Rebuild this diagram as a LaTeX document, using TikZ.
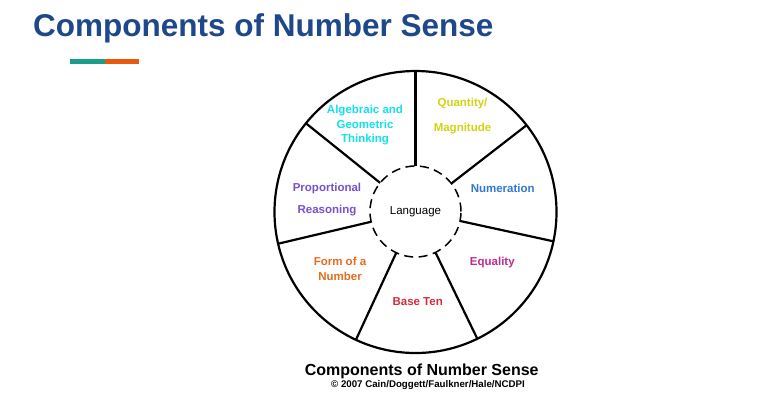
\documentclass[tikz,border=0pt]{standalone}
\usepackage{fontspec}
\setmainfont{Liberation Sans}
\definecolor{titleblue}{RGB}{31,72,138}
\definecolor{barteal}{RGB}{26,158,138}
\definecolor{barorange}{RGB}{232,89,12}
\definecolor{cAlg}{RGB}{20,225,235}
\definecolor{cQty}{RGB}{210,210,20}
\definecolor{cNum}{RGB}{50,120,210}
\definecolor{cProp}{RGB}{120,80,205}
\definecolor{cEq}{RGB}{190,45,140}
\definecolor{cForm}{RGB}{225,110,30}
\definecolor{cBase}{RGB}{210,45,60}
\tikzset{
  wheel/.style={circle, draw=black, line width=2.2bp, inner sep=0pt, outer sep=0pt},
  hub/.style={circle, draw=black, line width=1.5bp, dash pattern=on 9bp off 5.5bp, inner sep=0pt, outer sep=0pt, fill=white},
  spoke/.style={draw=black, line width=2.2bp},
  lab/.style={font=\fontsize{11.5bp}{14.5bp}\selectfont\bfseries, align=center, inner sep=0pt},
}
\begin{document}
\begin{tikzpicture}[x=1bp,y=-1bp]
\useasboundingbox (0,0) rectangle (782,412);
\fill[white] (0,0) rectangle (782,412);
% title
\node[anchor=base west, inner sep=0pt, text=titleblue, font=\fontsize{31.5bp}{36bp}\selectfont\bfseries] (title) at (33,36.7) {Components of Number Sense};
\fill[barteal] (70,59.3) rectangle (105,63.7);
\fill[barorange] (105,59.3) rectangle (139,63.7);
% wheel
\node[wheel, minimum size=282bp] (outer) at (415.5,212) {};
\node[hub, minimum size=91bp, font=\fontsize{11.5bp}{14bp}\selectfont] (lang) at (415.5,211.5) {Language};
\foreach \a in {90,38.57,-12.86,-64.29,-115.71,-167.14,141.43}
  \draw[spoke] (lang.\a) -- (outer.\a);
% labels
\node[lab, text=cAlg] (alg) at (365,125.5) {Algebraic and\\Geometric\\Thinking};
\node[lab, text=cQty, font=\fontsize{11.5bp}{25bp}\selectfont\bfseries] (qty) at (462.5,116.5) {Quantity/\\Magnitude};
\node[lab, text=cNum] (num) at (502.7,188.3) {Numeration};
\node[lab, text=cProp, font=\fontsize{11.5bp}{22bp}\selectfont\bfseries] (prop) at (327,199.5) {Proportional\\Reasoning};
\node[lab, text=cEq] (eq) at (492.3,262.5) {Equality};
\node[lab, text=cForm, font=\fontsize{11.5bp}{15bp}\selectfont\bfseries] (form) at (340,269) {Form of a\\Number};
\node[lab, text=cBase] (base) at (417.7,301.7) {Base Ten};
% caption
\node[anchor=base, inner sep=0pt, font=\fontsize{16bp}{18bp}\selectfont\bfseries] (cap) at (421.7,375) {Components of Number Sense};
\node[anchor=base, inner sep=0pt, font=\fontsize{9.7bp}{11bp}\selectfont\bfseries] (copy) at (428,387.5) {© 2007 Cain/Doggett/Faulkner/Hale/NCDPI};
\end{tikzpicture}
\end{document}
